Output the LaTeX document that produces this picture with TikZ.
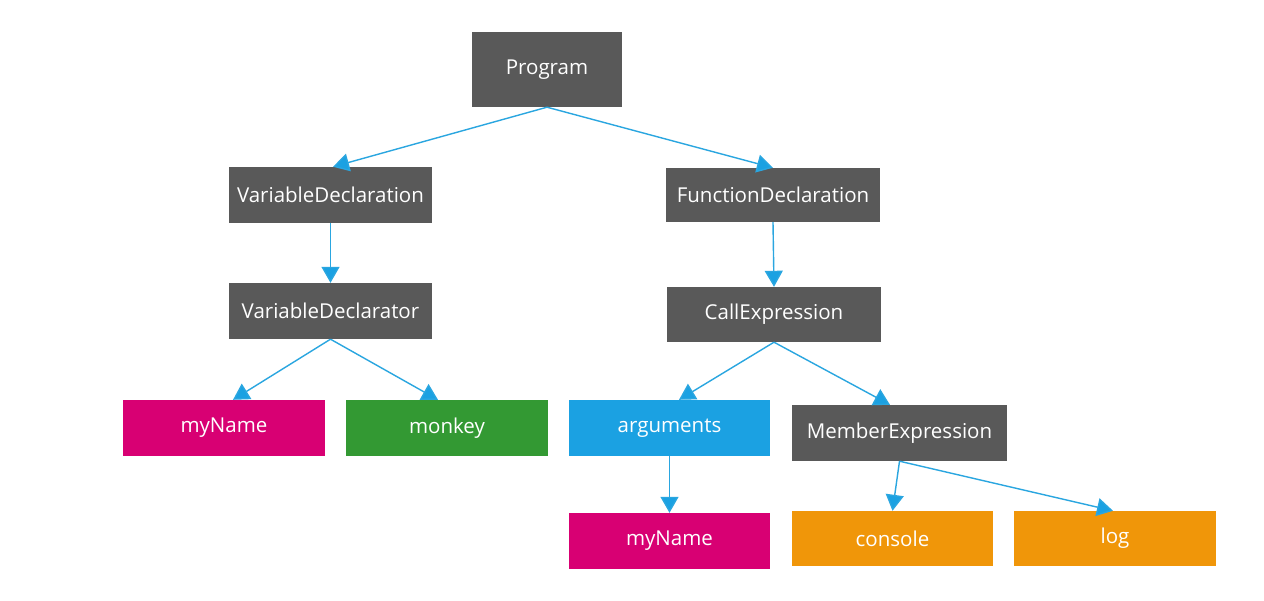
\documentclass[tikz,border=0pt]{standalone}
\usepackage{fontspec}
\setmainfont{Open Sans}
\usetikzlibrary{arrows.meta}
\definecolor{boxgray}{HTML}{595959}
\definecolor{mag}{HTML}{D80073}
\definecolor{grn}{HTML}{339933}
\definecolor{blu}{HTML}{1BA1E2}
\definecolor{org}{HTML}{F09609}
\definecolor{lineblue}{HTML}{2AA6E0}
\tikzset{
  box/.style={rectangle, inner sep=0pt, text=white, font=\fontsize{20.5}{23}\selectfont},
  conn/.style={draw=lineblue, line width=1.4pt, -{Triangle[width=18pt,length=16pt,fill=blu]}},
}
\begin{document}
\begin{tikzpicture}[x=1pt,y=-1pt]
\useasboundingbox[fill=white] (0,0) rectangle (1264,601);
\node[box, fill=boxgray, minimum width=150pt, minimum height=75pt] (prog) at (547,69.5) {Program};
\node[box, fill=boxgray, minimum width=203pt, minimum height=56pt] (vd) at (330.5,195) {VariableDeclaration};
\node[box, fill=boxgray, minimum width=214pt, minimum height=54pt] (fd) at (773,195) {FunctionDeclaration};
\node[box, fill=boxgray, minimum width=203pt, minimum height=56pt] (vdr) at (330.5,311) {VariableDeclarator};
\node[box, fill=boxgray, minimum width=214pt, minimum height=55pt] (ce) at (774,314.5) {CallExpression};
\node[box, fill=mag, minimum width=202pt, minimum height=56pt] (my1) at (224,428) {myName};
\node[box, fill=grn, minimum width=202pt, minimum height=56pt] (mk) at (447,428) {monkey};
\node[box, fill=blu, minimum width=201pt, minimum height=56pt] (arg) at (669.5,428) {arguments};
\node[box, fill=boxgray, minimum width=215pt, minimum height=56pt] (me) at (899.5,433) {MemberExpression};
\node[box, fill=mag, minimum width=201pt, minimum height=56pt] (my2) at (669.5,541) {myName};
\node[box, fill=org, minimum width=201pt, minimum height=55pt] (con) at (892.5,538.5) {console};
\node[box, fill=org, minimum width=202pt, minimum height=55pt] (log) at (1115,538.5) {log};

\draw[conn] (prog.south) -- ([xshift=2.5pt]vd.north);
\draw[conn] (prog.south) -- (fd.north);
\draw[conn] (vd.south) -- (vdr.north);
\draw[conn] (fd.south) -- (ce.north);
\draw[conn] (vdr.south) -- ([xshift=9pt]my1.north);
\draw[conn] (vdr.south) -- ([xshift=-9pt]mk.north);
\draw[conn] (ce.south) -- ([xshift=9.5pt]arg.north);
\draw[conn] (ce.south) -- ([xshift=-9.5pt]me.north);
\draw[conn] (arg.south) -- (my2.north);
\draw[conn] (me.south) -- (con.north);
\draw[conn] (me.south) -- ([xshift=-2pt]log.north);
\end{tikzpicture}
\end{document}
